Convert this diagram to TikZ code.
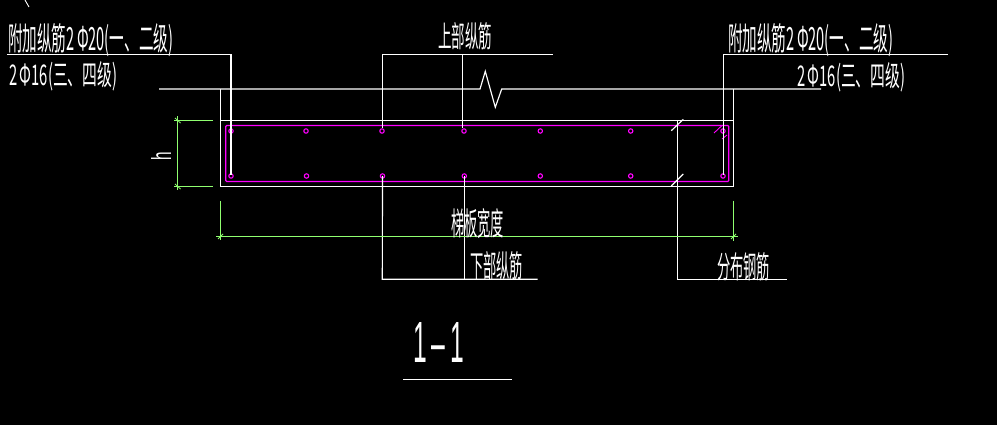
\documentclass[tikz,border=0pt]{standalone}
\usepackage{graphicx}
\usepackage{fontspec}
\newfontfamily\cjk{Noto Sans CJK SC}
\newfontfamily\lat{Liberation Sans}
\newcommand{\fitbox}[3]{\resizebox{#1pt}{#2pt}{\cjk #3}}
\definecolor{cadgreen}{HTML}{90FF70}
\definecolor{cadmag}{HTML}{FF00FF}
\tikzset{
  wl/.style={draw=white,line width=1.15pt},
  gl/.style={draw=cadgreen,line width=1.15pt},
  ml/.style={draw=cadmag,line width=1.2pt},
  bar/.style={circle,draw=cadmag,line width=1.1pt,inner sep=0pt,minimum size=4.4pt},
  lab/.style={text=white,inner sep=0pt,anchor=north west}
}
\begin{document}
\begin{tikzpicture}[x=1pt,y=-1pt]
\useasboundingbox[fill=black] (0,0) rectangle (997,425);
% rebars
\foreach \n/\x in {a/231,b/306,c/382,d/464,e/540.3,f/630.7,g/723}{
  \node[bar] (t\n) at (\x,131) {};
}
\foreach \n/\x in {a/231,b/306.5,c/382.5,d/464.3,e/540.3,f/630.7,g/723}{
  \node[bar] (u\n) at (\x,176) {};
}
% slab
\draw[ml,rounded corners=1pt] (225.7,125.5) rectangle (728.7,181.5);
\draw[wl] (159,89) -- (480,89) -- (485.3,71.3) -- (495.3,107.3) -- (501.7,89) -- (821,89);
\draw[wl] (220.5,89) -- (220.5,186.5) -- (733.5,186.5) -- (733.5,89);
\draw[wl] (220.5,120.5) -- (733.5,120.5);
% magenta hooks at top right corner
\draw[ml,line width=0.9pt] (714,133) -- (722,125.5);
\draw[ml,line width=0.9pt] (722,139) -- (727,135);
% leaders top
\coordinate (ll) at (7,54.3);
\coordinate (lc) at (231,54.3);
\draw[wl] (ll) -- (lc) -- (231,175);
\coordinate (rc) at (723.3,54.3);
\coordinate (rr) at (948,54.3);
\draw[wl] (rr) -- (rc) -- (723.3,175);
\draw[wl] (552.7,54.3) -- (382.3,54.3) -- (382.3,128);
\draw[wl] (462.5,54.3) -- (462.5,128);
% leaders bottom
\draw[wl] (uc.center) -- (382.3,279.3) -- (537.7,279.3);
\draw[wl] (ud.center) -- (464.3,279.3);
\draw[wl] (677.3,120.5) -- (677.3,279.3) -- (786.7,279.3);
\draw[wl] (671.3,130.7) -- (683.3,119.3);
\draw[wl] (671.3,186) -- (683.3,174);
% title underline and stray mark
\draw[wl] (403,379.3) -- (512,379.3);
\draw[wl,line width=0.9pt] (25,0) -- (29,7);
% dimensions
\draw[gl] (174,120.3) -- (213,120.3);
\draw[gl] (174,186.3) -- (213,186.3);
\draw[gl] (177.5,116.5) -- (177.5,190);
\draw[gl,line width=0.8pt] (175,118) -- (180.5,123);
\draw[gl,line width=0.8pt] (175,184) -- (180.5,189);
\draw[gl] (220.3,201) -- (220.3,240);
\draw[gl] (733.5,200.7) -- (733.5,240.7);
\draw[gl] (216,236.4) -- (738,236.4);
\draw[gl,line width=0.8pt] (218,239) -- (223,234);
\draw[gl,line width=0.8pt] (731,239) -- (736,234);
% texts
\node[lab] (t1) at (8,23) {\fitbox{165}{27}{附加纵筋2\,Φ20(一、二级)}};
\node[lab] (t2) at (9,61) {\fitbox{108}{24}{2\,Φ16(三、四级)}};
\node[lab] (t3) at (728,23) {\fitbox{165}{27}{附加纵筋2\,Φ20(一、二级)}};
\node[lab] (t4) at (797,62) {\fitbox{108}{24}{2\,Φ16(三、四级)}};
\node[lab] (t5) at (438,22) {\fitbox{54}{25}{上部纵筋}};
\node[lab] (t6) at (451,208) {\fitbox{53}{27}{梯板宽度}};
\node[lab] (t7) at (470,251) {\fitbox{53}{26}{下部纵筋}};
\node[lab] (t8) at (717,252) {\fitbox{53}{26}{分布钢筋}};
\node[lab] (t9) at (413,322) {\resizebox{51pt}{40pt}{\lat 1\hspace{0.2em}–\hspace{0.2em}1}};
\node[text=white,inner sep=0pt,rotate=90] (t10) at (161,156) {\resizebox{8.5pt}{20pt}{\lat h}};
\end{tikzpicture}
\end{document}
